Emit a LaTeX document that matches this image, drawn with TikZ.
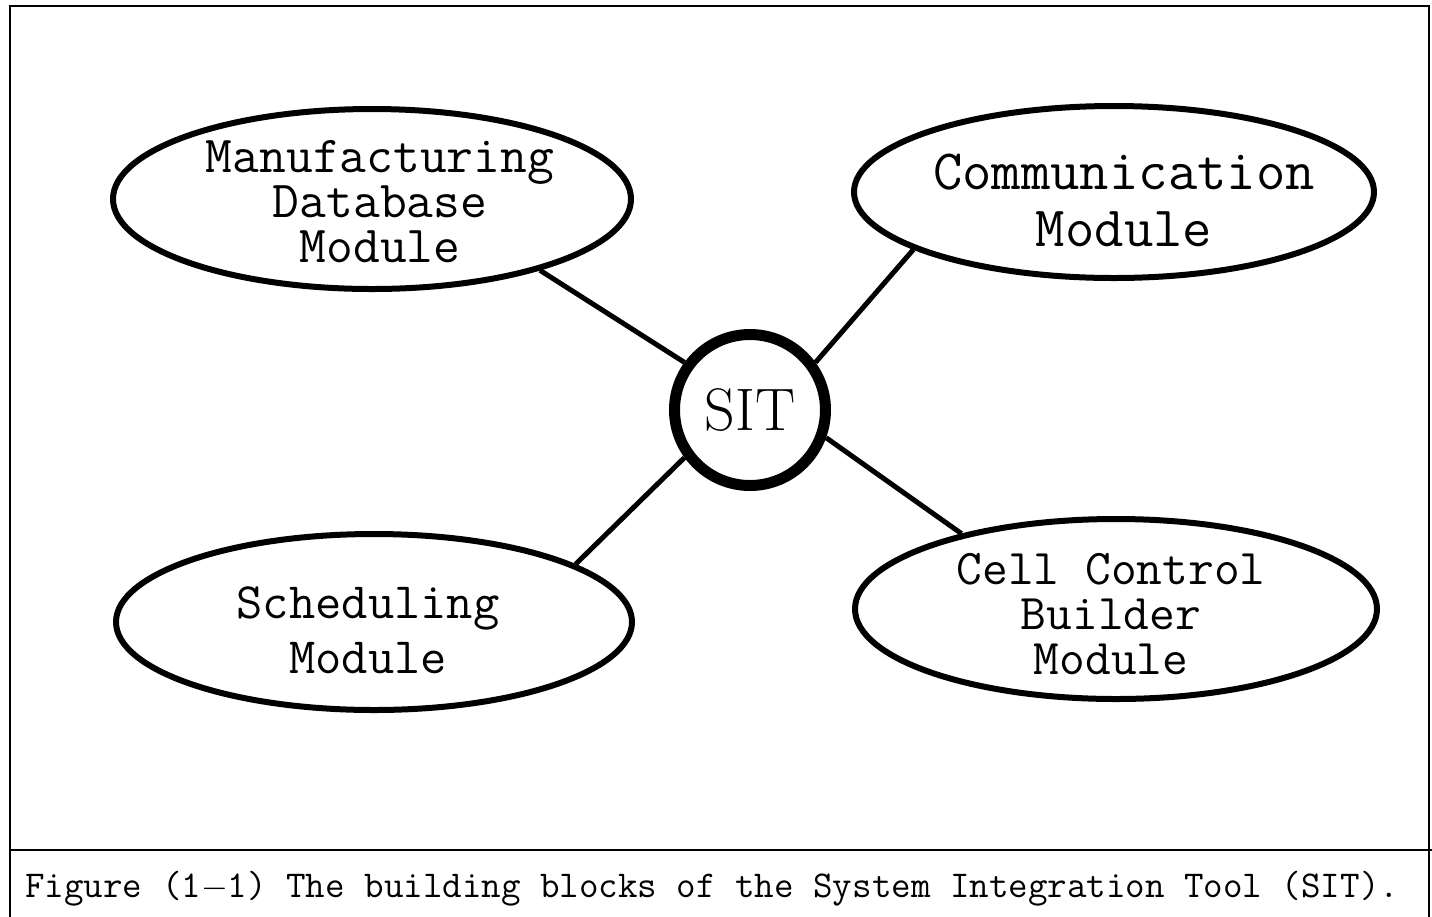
\documentclass[tikz,border=0pt]{standalone}
\usepackage{fontspec}
\usetikzlibrary{shapes.geometric}
\begin{document}
\begin{tikzpicture}[x=0.5pt,y=-0.5pt,
  modell/.style={draw,ellipse,line width=3pt,inner sep=0pt},
  modtext/.style={align=center,inner sep=0pt,font=\ttfamily},
  conn/.style={line width=2.5pt},
  frameline/.style={line width=1pt}]
\useasboundingbox (0,0) rectangle (1432,917);
% frame
\draw[frameline] (10,920) -- (10,6) -- (1429,6) -- (1429,920);
\draw[frameline] (10,850) -- (1432,850);
% ellipses
\node[modell,minimum width=259pt,minimum height=90pt] (mdm) at (372,199) {};
\node[modell,minimum width=260pt,minimum height=86pt] (com) at (1114,192) {};
\node[modell,minimum width=258pt,minimum height=88pt] (sch) at (374,622) {};
\node[modell,minimum width=261pt,minimum height=90pt] (ccb) at (1116,609) {};
% texts
\node[modtext,font=\ttfamily\fontsize{26}{22.5}\selectfont] (tmdm) at (380,202) {Manufacturing\\Database\\Module};
\node[modtext,font=\ttfamily\fontsize{28.5}{28.5}\selectfont] (tcom) at (1124,200) {Communication\\Module};
\node[modtext,font=\ttfamily\fontsize{25.5}{27.5}\selectfont] (tsch) at (368,630) {Scheduling\\Module};
\node[modtext,font=\ttfamily\fontsize{25}{22.5}\selectfont] (tccb) at (1111,614) {Cell Control\\Builder\\Module};
% SIT
\node[draw,circle,line width=5.5pt,minimum size=75.5pt,inner sep=0pt,
      font=\rmfamily\fontsize{30}{32}\selectfont] (sit) at (750,410) {SIT};
% connectors
\draw[conn] (mdm.-23) -- (sit.144);
\draw[conn] (com.196.5) -- (sit.36);
\draw[conn] (sch.16.6) -- (sit.216);
\draw[conn] (ccb.154) -- (sit.-20);
% caption
\node[anchor=base west,inner sep=0pt,font=\ttfamily\fontsize{18.95}{20}\selectfont] (cap) at (25,897)
  {Figure (1$-$1) The building blocks of the System Integration Tool (SIT).};
\end{tikzpicture}
\end{document}
